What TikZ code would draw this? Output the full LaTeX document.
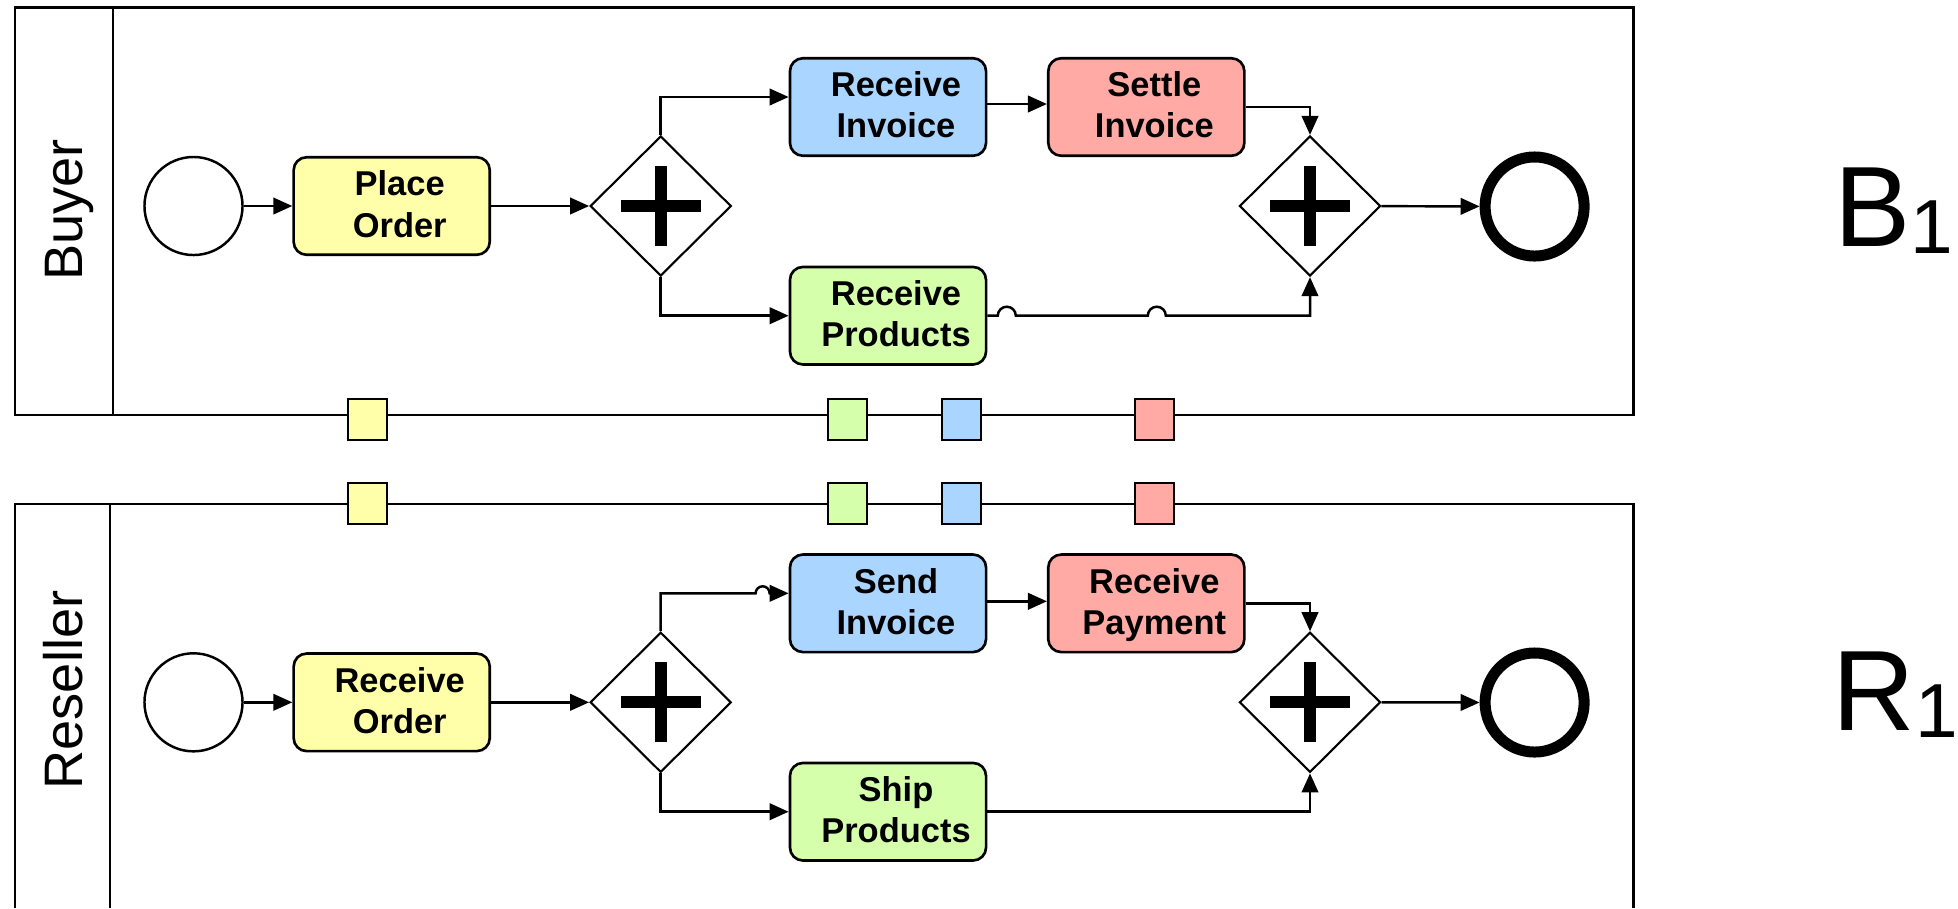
\documentclass[tikz,border=0pt]{standalone}
\usepackage{fontspec}
\setmainfont{Liberation Sans}
\usetikzlibrary{arrows.meta,shapes.geometric}

\definecolor{taskyellow}{HTML}{FFFFAA}
\definecolor{taskblue}{HTML}{A9D5FF}
\definecolor{taskred}{HTML}{FFAAA5}
\definecolor{taskgreen}{HTML}{D5FFAA}

% plus marker of a parallel gateway
\newcommand\gwplus[1]{%
  \draw[line width=0.12cm] ([xshift=-0.4cm]#1.center) -- ([xshift=0.4cm]#1.center)
    ([yshift=-0.4cm]#1.center) -- ([yshift=0.4cm]#1.center);}

\begin{document}
\begin{tikzpicture}[x=0.01cm,y=-0.01cm,
  pool/.style={line width=0.8pt},
  task/.style={draw,rounded corners=0.13cm,minimum width=1.96cm,minimum height=0.975cm,
    inner sep=0pt,line width=0.75pt},
  tasklabel/.style={font=\bfseries\fontsize{9.8}{11.66}\selectfont,align=center,
    text depth=0pt,inner sep=0pt},
  startev/.style={circle,draw,minimum size=0.98cm,inner sep=0pt,line width=0.7pt},
  endev/.style={circle,draw,minimum size=0.99cm,inner sep=0pt,line width=0.11cm},
  andgw/.style={diamond,draw,minimum width=1.41cm,minimum height=1.40cm,inner sep=0pt,
    line width=0.6pt},
  flow/.style={line width=0.7pt,-{Triangle[length=0.19cm,width=0.165cm]}},
  msgport/.style={draw,line width=0.8pt,minimum width=0.39cm,minimum height=0.41cm,
    inner sep=0pt},
  lanename/.style={rotate=90,anchor=base,font=\fontsize{15.4}{18}\selectfont,inner sep=0pt},
  modelname/.style={anchor=base west,font=\fontsize{32.5}{36}\selectfont,inner sep=0pt},
]
\useasboundingbox (0,0) rectangle (1958,908);

% ---------- pools ----------
\draw[pool] (15,7.5) rectangle (1633.6,415);
\draw[pool] (113,7.5) -- (113,415);
\draw[pool] (15,908) -- (15,504) -- (1633.6,504) -- (1633.6,908);
\draw[pool] (110,504) -- (110,908);

\node[lanename] (buyerlbl) at (82,210) {Buyer};
\node[lanename] (resellerlbl) at (82,690) {Reseller};

% ---------- Buyer process ----------
\node[startev] (bs) at (193.5,206) {};
\node[task,fill=taskyellow] (po) at (391.7,206) {};
\node[andgw] (g1) at (660.7,206) {};
\node[task,fill=taskblue] (ri) at (888,107) {};
\node[task,fill=taskred] (si) at (1146.3,107) {};
\node[task,fill=taskgreen] (rp) at (888,315.7) {};
\node[andgw] (g2) at (1310,206) {};
\node[endev] (be) at (1534.6,206.5) {};
\gwplus{g1}
\gwplus{g2}

\node[tasklabel] at ([xshift=0.08cm,yshift=0.02cm]po.center) {Place\\Order};
\node[tasklabel] at ([xshift=0.08cm,yshift=0.02cm]ri.center) {Receive\\Invoice};
\node[tasklabel] at ([xshift=0.08cm,yshift=0.02cm]si.center) {Settle\\Invoice};
\node[tasklabel] at ([xshift=0.08cm,yshift=0.02cm]rp.center) {Receive\\Products};

\draw[flow] (bs) -- (po);
\draw[flow] (po) -- (g1);
\draw[flow] (g1.north) |- ([yshift=0.1cm]ri.west);
\draw[flow] ([yshift=0.03cm]ri.east) -- ([yshift=0.03cm]si.west);
\draw[flow] (g1.south) |- (rp.west);
\draw[flow] (si.east) -| (g2.north);
\draw[flow] (rp.east) -- ++(10.4,0) arc[start angle=180,end angle=0,radius=0.09cm]
  -- ++(132,0) arc[start angle=180,end angle=0,radius=0.09cm] -| (g2.south);
\draw[flow] (g2) -- (be);

% ---------- Reseller process ----------
\node[startev] (rs) at (193.5,702.3) {};
\node[task,fill=taskyellow] (ro) at (391.7,702.3) {};
\node[andgw] (g3) at (660.7,702.3) {};
\node[task,fill=taskblue] (sn) at (888,603.3) {};
\node[task,fill=taskred] (rpay) at (1146.3,603.3) {};
\node[task,fill=taskgreen] (sp) at (888,811.7) {};
\node[andgw] (g4) at (1310,702.3) {};
\node[endev] (re) at (1534.6,702.5) {};
\gwplus{g3}
\gwplus{g4}

\node[tasklabel] at ([xshift=0.08cm,yshift=0.02cm]ro.center) {Receive\\Order};
\node[tasklabel] at ([xshift=0.08cm,yshift=0.02cm]sn.center) {Send\\Invoice};
\node[tasklabel] at ([xshift=0.08cm,yshift=0.02cm]rpay.center) {Receive\\Payment};
\node[tasklabel] at ([xshift=0.08cm,yshift=0.02cm]sp.center) {Ship\\Products};

\coordinate (snin) at ([yshift=0.1cm]sn.west);
\draw[flow] (rs) -- (ro);
\draw[flow] (ro) -- (g3);
\draw[flow] (g3.north) |- ([xshift=-0.33cm]snin) arc[start angle=180,end angle=0,radius=0.07cm]
  -- (snin);
\draw[flow] ([yshift=0.02cm]sn.east) -- ([yshift=0.02cm]rpay.west);
\draw[flow] (g3.south) |- (sp.west);
\draw[flow] (rpay.east) -| (g4.north);
\draw[flow] (sp.east) -| (g4.south);
\draw[flow] (g4) -- (re);

% ---------- message ports on the pool borders ----------
\node[msgport,fill=taskyellow] (mb1) at (367.5,419.5) {};
\node[msgport,fill=taskgreen]  (mb2) at (847.5,419.5) {};
\node[msgport,fill=taskblue]   (mb3) at (961.5,419.5) {};
\node[msgport,fill=taskred]    (mb4) at (1154.5,419.5) {};
\node[msgport,fill=taskyellow] (mr1) at (367.5,503.5) {};
\node[msgport,fill=taskgreen]  (mr2) at (847.5,503.5) {};
\node[msgport,fill=taskblue]   (mr3) at (961.5,503.5) {};
\node[msgport,fill=taskred]    (mr4) at (1154.5,503.5) {};

% ---------- model names ----------
\node[modelname] (bname) at (1833.4,246.7) {B\raisebox{-2pt}{\fontsize{21.8}{24}\selectfont 1}};
\node[modelname] (rname) at (1832,730.7) {R\raisebox{-2pt}{\fontsize{21.8}{24}\selectfont 1}};
\end{tikzpicture}
\end{document}
